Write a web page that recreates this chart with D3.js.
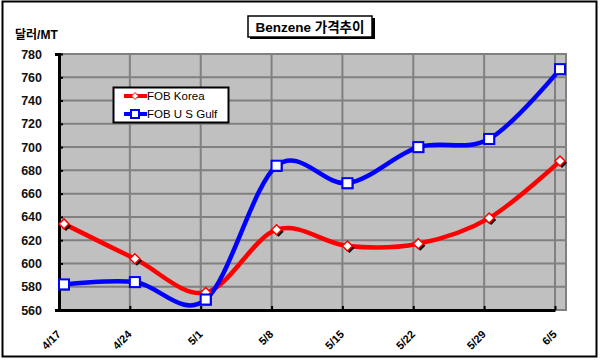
<!DOCTYPE html>
<html><head><meta charset="utf-8">
<script src="https://cdn.jsdelivr.net/npm/d3@7"></script>
<style>
body{margin:0;background:#fff;}
text{font-family:Arial,"Liberation Sans","Noto Sans CJK KR",sans-serif;}
</style></head>
<body><svg id="c" width="601" height="361"></svg>
<script>
const categories = ["4/17","4/24","5/1","5/8","5/15","5/22","5/29","6/5"];
const fobKorea = [634, 604, 575, 629, 615, 617, 639, 688];
const fobUSGulf = [582, 584, 569, 684, 669, 700, 707, 767];
const yTicks = [560,580,600,620,640,660,680,700,720,740,760,780];
const seriesNames = ["FOB Korea", "FOB U S Gulf"];
const titleText = "Benzene 가격추이";
const yUnit = "달러/MT";

const svg = d3.select("#c");
// outer border
svg.append("rect").attr("x",2.5).attr("y",1.5).attr("width",594).attr("height",355)
  .attr("fill","#fff").attr("stroke","#000").attr("stroke-width",2);

const L=59, R=566, T=54, B=310;
const y = d3.scaleLinear().domain([560,780]).range([B,T]);
const x = d3.scalePoint().domain(categories).range([64,560]);
const OFF = 5;

// plot bg
svg.append("rect").attr("x",L).attr("y",T).attr("width",R-L).attr("height",B-T)
  .attr("fill","#c0c0c0").attr("stroke","#808080").attr("stroke-width",2);

// horizontal grid
svg.append("g").selectAll("line").data(yTicks.slice(1,-1)).join("line")
  .attr("x1",L).attr("x2",R).attr("y1",d=>y(d)).attr("y2",d=>y(d))
  .attr("stroke","#808080").attr("stroke-width",2);
// vertical grid
svg.append("g").selectAll("line").data(categories.slice(1)).join("line")
  .attr("x1",d=>x(d)-OFF).attr("x2",d=>x(d)-OFF).attr("y1",T).attr("y2",B)
  .attr("stroke","#808080").attr("stroke-width",2);

// axes
const yAxis = d3.axisLeft(y).tickValues(yTicks).tickSize(4).tickPadding(13);
const gy = svg.append("g").attr("transform",`translate(${L},0)`).call(yAxis);
gy.select(".domain").attr("stroke","#000").attr("stroke-width",3);
gy.selectAll(".tick line").attr("stroke","#000").attr("stroke-width",2).attr("x2",4);
gy.selectAll("text").attr("font-size",12.5).attr("font-weight","bold").attr("fill","#111");

const xAxis = d3.axisBottom(x).tickSize(4).tickSizeOuter(0);
const gx = svg.append("g").attr("transform",`translate(${-OFF},${B})`).call(xAxis);
gx.select(".domain").attr("stroke","#000").attr("stroke-width",3);
gx.selectAll(".tick line").attr("stroke","#000").attr("stroke-width",2).attr("y1",-4).attr("y2",0);
gx.selectAll("text").attr("font-size",11).attr("font-weight","bold").attr("fill","#000")
  .attr("text-anchor","end").attr("dy",0).attr("y",0)
  .attr("transform","translate(2,25) rotate(-45)");

// lines
const line = d3.line().x((d,i)=>x(categories[i])).y(d=>y(d)).curve(d3.curveCardinal.tension(0));
svg.append("path").datum(fobKorea).attr("d",line).attr("fill","none").attr("stroke","#ff0000").attr("stroke-width",4.5);
svg.append("path").datum(fobUSGulf).attr("d",line).attr("fill","none").attr("stroke","#0000ff").attr("stroke-width",4.5);

// markers with shadow
const diamond = (cx,cy,s)=>`M${cx},${cy-s}L${cx+s},${cy}L${cx},${cy+s}L${cx-s},${cy}Z`;
const gk = svg.append("g");
fobKorea.forEach((v,i)=>{
  const cx=x(categories[i]), cy=y(v);
  gk.append("path").attr("d",diamond(cx+2,cy+2,5)).attr("fill","#000");
  gk.append("path").attr("d",diamond(cx,cy,5)).attr("fill","#fff").attr("stroke","#ff0000").attr("stroke-width",1.5);
});
const gu = svg.append("g");
fobUSGulf.forEach((v,i)=>{
  const cx=x(categories[i]), cy=y(v);
  gu.append("rect").attr("x",cx-4).attr("y",cy-4).attr("width",10).attr("height",10).attr("fill","#000");
  gu.append("rect").attr("x",cx-5).attr("y",cy-5).attr("width",10).attr("height",10).attr("fill","#fff").attr("stroke","#0000ff").attr("stroke-width",2);
});

// y unit label
svg.append("text").attr("x",15).attr("y",39).attr("font-size",12).attr("font-weight","bold").text(yUnit);

// title
svg.append("rect").attr("x",250).attr("y",18).attr("width",125).attr("height",21).attr("fill","#000");
svg.append("rect").attr("x",248).attr("y",16).attr("width",124).attr("height",21).attr("fill","#fff").attr("stroke","#000").attr("stroke-width",1.5);
svg.append("text").attr("x",310).attr("y",32).attr("text-anchor","middle").attr("font-size",13.5).attr("font-weight","bold").text(titleText);

// legend
const lg = svg.append("g");
lg.append("rect").attr("x",113.5).attr("y",87.5).attr("width",115).attr("height",35).attr("fill","#fff").attr("stroke","#000").attr("stroke-width",2);
const colors=["#ff0000","#0000ff"];
seriesNames.forEach((n,i)=>{
  const yy = 96 + i*18;
  lg.append("line").attr("x1",124).attr("x2",147).attr("y1",yy).attr("y2",yy).attr("stroke",colors[i]).attr("stroke-width",4);
  if(i===0) lg.append("path").attr("d",diamond(135,yy,3.5)).attr("fill","#fff").attr("stroke","#ff0000").attr("stroke-width",1);
  else lg.append("rect").attr("x",131).attr("y",yy-4).attr("width",8).attr("height",8).attr("fill","#fff").attr("stroke","#0000ff").attr("stroke-width",2);
  lg.append("text").attr("x",147).attr("y",yy+4).attr("font-size",11.5).text(n);
});
</script></body></html>
